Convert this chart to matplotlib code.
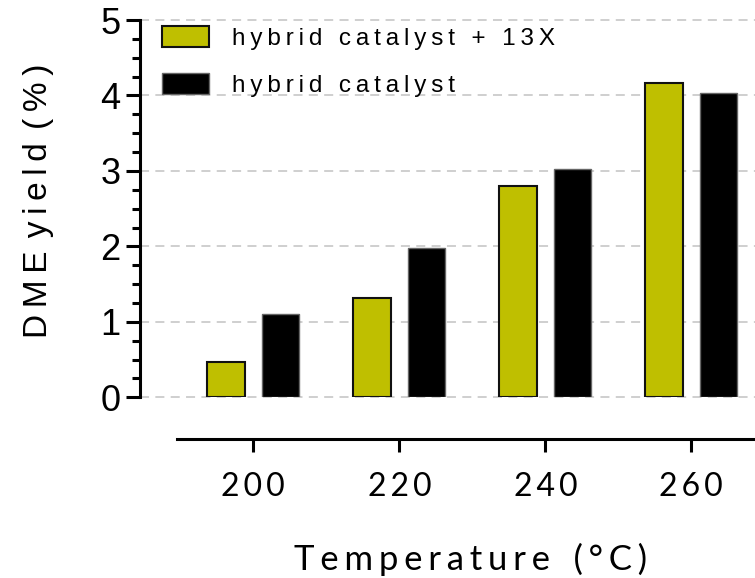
import numpy as np
import matplotlib
matplotlib.use('Agg')
import matplotlib.pyplot as plt
from matplotlib.ticker import MultipleLocator

temps = ['200', '220', '240', '260']
with_13x = [0.47, 1.32, 2.80, 4.16]
without_13x = [1.11, 1.98, 3.02, 4.03]
labels = ['hybrid catalyst + 13X', 'hybrid catalyst']
colors = ['#bfbf00', '#000000']

TS = '\u2009'   # thin space
SS = '\u2006'   # six-per-em space


def spaced(s, sep=TS):
    # fake letter spacing
    return sep.join(s)


arial = ['Liberation Sans', 'DejaVu Sans']
calibri = ['Lato', 'DejaVu Sans']

fig = plt.figure(figsize=(7.55, 5.78), dpi=100)
ax = fig.add_axes([140 / 755, 180.7 / 578, 615 / 755, 377.3 / 578])

x = np.arange(len(temps))
w = 0.257
off = 0.187
ax.bar(x - off, with_13x, w, color=colors[0], edgecolor='#111111', linewidth=1.5,
       label=spaced(labels[0]), zorder=3)
ax.bar(x + off, without_13x, w, color=colors[1], edgecolor='#666666', linewidth=1.0,
       label=spaced(labels[1]), zorder=3)

ax.set_xlim(-0.776, 3.436)
ax.set_ylim(0, 5)

# y axis
ax.yaxis.set_major_locator(MultipleLocator(1))
ax.yaxis.set_minor_locator(MultipleLocator(0.25))
ax.tick_params(axis='y', which='major', length=10, width=2.2, pad=4)
ax.tick_params(axis='y', which='minor', length=6, width=2.2)
for t in ax.get_yticklabels():
    t.set_family(arial)
    t.set_fontsize(26)

# x axis offset below
ax.spines['bottom'].set_position(('outward', 30))
ax.spines['bottom'].set_bounds(-0.52, 3.436)
ax.spines['bottom'].set_linewidth(2.2)
ax.spines['left'].set_linewidth(2.2)
ax.spines['top'].set_visible(False)
ax.spines['right'].set_visible(False)
ax.set_xticks(x)
ax.set_xticklabels([spaced(t) for t in temps], family=calibri, fontsize=23)
ax.tick_params(axis='x', which='major', length=9, width=2.2, pad=15)

ax.grid(axis='y', color='#cccccc', linestyle=(0, (5, 3.5)), linewidth=1.3, zorder=0)
for gl in ax.get_ygridlines():
    gl.set_clip_on(False)

gap = TS * 2
ax.set_ylabel(spaced('DME') + gap + spaced('yield') + gap + spaced('(%)'),
              family=arial, fontsize=24)
ax.yaxis.set_label_coords(-0.14, 0.522)
ax.set_xlabel(spaced('Temperature', SS) + '  ' + SS + spaced('(°C)', SS),
              family=calibri, fontsize=25)
ax.xaxis.set_label_coords(0.538, -0.386)

ax.legend(loc='upper left', bbox_to_anchor=(162 / 755, 1 - 26 / 578),
          bbox_transform=fig.transFigure, frameon=False,
          prop={'family': arial, 'size': 17.5},
          handlelength=1.92, handleheight=0.93, handletextpad=0.95,
          labelspacing=0.97, borderpad=0, borderaxespad=0)

fig.savefig('out.png', dpi=100)
